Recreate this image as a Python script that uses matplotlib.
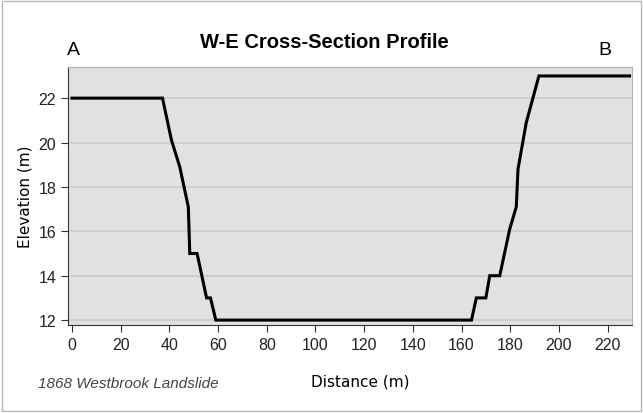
import matplotlib
matplotlib.use("Agg")
import matplotlib.pyplot as plt

distance = [0, 37.2, 40.9, 44.3, 47.8, 48.4, 51.4, 55.3, 56.9, 59.1, 164.1, 166.1, 170.0, 171.6, 175.7, 179.8, 182.5, 183.2, 186.6, 191.8, 229]
elevation = [22, 22, 20.1, 18.9, 17.1, 15.0, 15.0, 13.0, 13.0, 12.0, 12.0, 13.0, 13.0, 14.0, 14.0, 16.1, 17.1, 18.8, 20.9, 23.0, 23.0]
x_ticks = list(range(0, 221, 20))
y_ticks = list(range(12, 23, 2))

plt.rcParams['font.family'] = ['Liberation Sans', 'DejaVu Sans']

fig = plt.figure(figsize=(6.43, 4.14), dpi=100)
fig.patch.set_facecolor('white')
ax = fig.add_axes([0.1058, 0.2126, 0.877, 0.623])
ax.set_facecolor('#e1e1e1')
ax.plot(distance, elevation, color='black', lw=2.2, solid_joinstyle='miter')
ax.set_xlim(-1.6, 230)
ax.set_ylim(11.78, 23.4)
ax.set_xticks(x_ticks)
ax.set_yticks(y_ticks)
ax.grid(axis='y', color='#cbcbcb', lw=1.2)
ax.set_axisbelow(True)
for s in ['top', 'right']:
    ax.spines[s].set_color('#b0b0b0')
for s in ['left', 'bottom']:
    ax.spines[s].set_color('#333333')
ax.tick_params(axis='both', labelsize=11.5, color='#333333', length=5, labelcolor='#222222')
ax.set_ylabel('Elevation (m)', family='DejaVu Sans', fontsize=11, labelpad=4)

fig.text(0.505, 0.897, 'W-E Cross-Section Profile', ha='center', va='center',
         fontsize=14.5, fontweight='bold')
fig.text(0.114, 0.877, 'A', ha='center', va='center', fontsize=14)
fig.text(0.941, 0.877, 'B', ha='center', va='center', fontsize=14)
fig.text(0.2, 0.073, '1868 Westbrook Landslide', ha='center', va='center',
         fontsize=11, style='italic', color='#444444')
fig.text(0.56, 0.078, 'Distance (m)', ha='center', va='center', fontsize=11,
         family='DejaVu Sans')

border = plt.Rectangle((0.003, 0.005), 0.994, 0.99, transform=fig.transFigure,
                       fill=False, edgecolor='#b8b8b8', lw=1)
fig.patches.append(border)

fig.savefig('out.png', dpi=100)
